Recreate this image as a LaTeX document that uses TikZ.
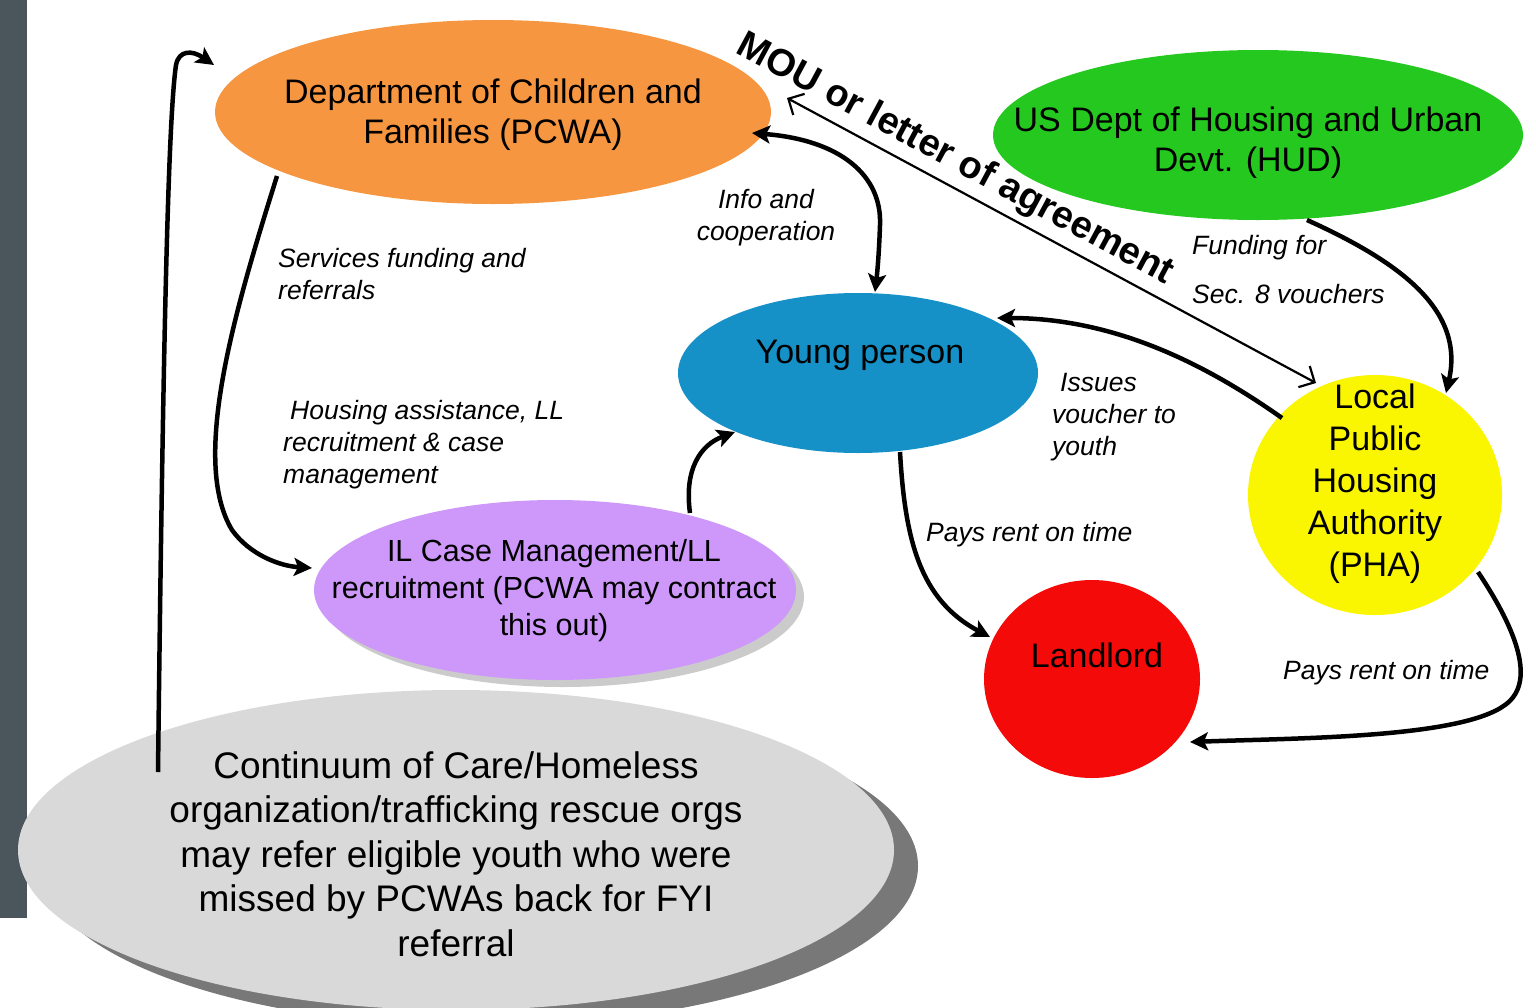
\documentclass[tikz,border=0pt]{standalone}
\usepackage{fontspec}
\setmainfont{Liberation Sans}
\usetikzlibrary{shapes.geometric,arrows.meta,shadows,calc}
\definecolor{barc}{RGB}{74,85,92}
\definecolor{cora}{RGB}{247,150,64}
\definecolor{cgreen}{RGB}{36,200,30}
\definecolor{cblue}{RGB}{22,145,200}
\definecolor{cyellow}{RGB}{250,245,0}
\definecolor{cred}{RGB}{245,10,10}
\definecolor{cpurple}{RGB}{205,152,250}
\definecolor{cgray}{RGB}{217,217,217}
\definecolor{cshadow}{RGB}{120,120,120}
\tikzset{
  ell/.style={ellipse, inner sep=0pt, draw=none},
  big/.style={font=\fontsize{34}{40}\selectfont, align=center},
  lab/.style={font=\fontsize{26.5}{32}\selectfont\itshape, align=left, inner sep=0pt},
  arr/.style={line width=4.5pt, -{Stealth[length=18pt,width=18pt,inset=4pt]}},
  darr/.style={line width=4.5pt, {Stealth[length=18pt,width=18pt,inset=4pt]}-{Stealth[length=18pt,width=18pt,inset=4pt]}},
  thinarr/.style={line width=2.2pt, {Straight Barb[length=12pt,width=24pt]}-{Straight Barb[length=12pt,width=24pt]}}
}
\begin{document}
\begin{tikzpicture}[x=1pt,y=-1pt]
\fill[white] (0,0) rectangle (1536,1007);
\useasboundingbox (0,0) rectangle (1536,1007);
\clip (0,0) rectangle (1536,1007);
\fill[barc] (0,0) rectangle (27,918);

% shapes
\node[ell, fill=cora, minimum width=556pt, minimum height=184pt] (dcf) at (493,112) {};
\node[ell, fill=cgreen, minimum width=530pt, minimum height=170pt] (hud) at (1258,135) {};
\node[ell, fill=cblue, minimum width=360pt, minimum height=160pt] (young) at (858,373) {};
\node[ell, fill=cyellow, minimum width=254pt, minimum height=240pt] (pha) at (1375,495) {};
\node[ell, fill=cred, minimum width=216pt, minimum height=198pt] (land) at (1092,679) {};
\node[ell, fill=cpurple, minimum width=482pt, minimum height=180pt,
      drop shadow={shadow xshift=8pt, shadow yshift=-7pt, fill=black!40, opacity=.5}] (il) at (555,590) {};
\node[ell, fill=cgray, minimum width=876pt, minimum height=320pt,
      drop shadow={shadow xshift=24pt, shadow yshift=-16pt, fill=cshadow, opacity=1}] (cont) at (456,850) {};

% texts
\node[big] (dcft) at (493,115) {Department of Children and\\Families (PCWA)};
\node[big] (hudt) at (1248,143) {US Dept of Housing and Urban\\Devt. (HUD)};
\node[big] (youngt) at (860,355) {Young person};
\node[font=\fontsize{34}{42}\selectfont, align=center] (phat) at (1375,484) {Local\\Public\\Housing\\Authority\\(PHA)};
\node[big] (landt) at (1097,655) {Landlord};
\node[font=\fontsize{30.5}{37}\selectfont, align=center] (ilt) at (554,591) {IL Case Management/LL\\recruitment (PCWA may contract\\this out)};
\node[font=\fontsize{37}{44.5}\selectfont, align=center] (contt) at (456,854) {Continuum of Care/Homeless\\organization/trafficking rescue orgs\\may refer eligible youth who were\\missed by PCWAs back for FYI\\referral};

% connectors
\draw[arr] ([shift={(-298,-78)}]cont.center) .. controls (163,350) and (168,120) .. (176,65)
   .. controls (179,50) and (192,50) .. ([shift={(-279,-47)}]dcf.center);
\draw[arr] ([shift={(-216,64)}]dcf.center) .. controls (235,310) and (190,460) .. (232,530)
   .. controls (250,555) and (280,566) .. ([shift={(-243,-22)}]il.center);
\draw[arr] ([shift={(135,-77)}]il.center) .. controls (684,470) and (700,445) .. ([shift={(-123,59)}]young.center);
\draw[darr] ([shift={(259,21)}]dcf.center) .. controls (840,140) and (882,175) .. (880,225)
   .. controls (879,255) and (877,275) .. ([shift={(17,-81)}]young.center);
\draw[thinarr] ([shift={(294,-14)}]dcf.center) -- ([shift={(-59,-112)}]pha.center);
\draw[arr] ([shift={(49,85)}]hud.center) .. controls (1400,262) and (1465,310) .. ([shift={(71,-102)}]pha.center);
\draw[arr] ([shift={(-93,-77)}]pha.center) .. controls (1200,360) and (1110,318) .. ([shift={(139,-55)}]young.center);
\draw[arr] ([shift={(42,79)}]young.center) .. controls (905,540) and (920,600) .. ([shift={(-102,-42)}]land.center);
\draw[arr] ([shift={(103,77)}]pha.center) .. controls (1510,620) and (1540,680) .. (1505,705)
   .. controls (1460,738) and (1300,738) .. ([shift={(98,63)}]land.center);

% labels
\node[font=\fontsize{38}{44}\selectfont\bfseries, rotate=-28.3, inner sep=0pt] (mou) at (955,160) {MOU or letter of agreement};
\node[lab, anchor=west] (l1) at (278,274) {Services funding and\\referrals};
\node[lab, align=center] (l2) at (766,218) {Info and\\cooperation};
\node[lab, anchor=west] (l3) at (283,445) {\hspace*{7pt}Housing assistance, LL\\recruitment \& case\\management};
\node[font=\fontsize{26.5}{49}\selectfont\itshape, align=left, anchor=west, inner sep=0pt] (l4) at (1192,270) {Funding for\\Sec. 8 vouchers};
\node[lab, anchor=west] (l5) at (1052,417) {\hspace*{8pt}Issues\\voucher to\\youth};
\node[lab, anchor=west] (l6) at (926,535) {Pays rent on time};
\node[lab, anchor=west] (l7) at (1283,673) {Pays rent on time};
\end{tikzpicture}
\end{document}
